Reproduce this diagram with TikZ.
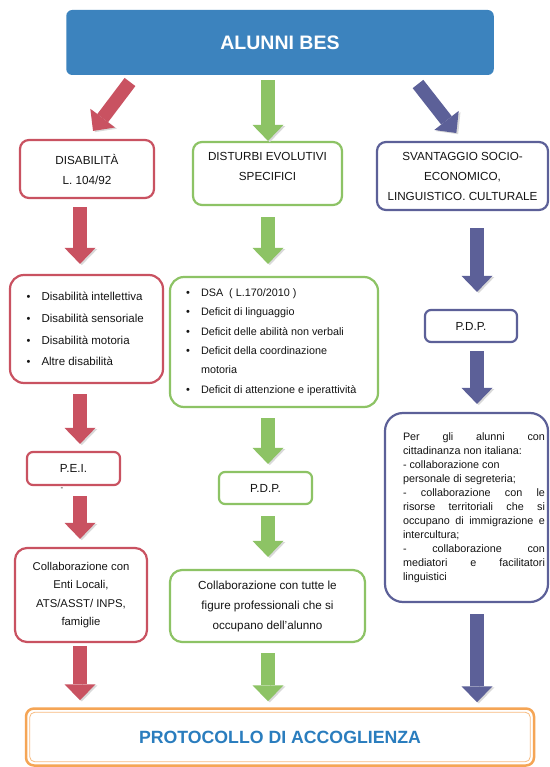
\documentclass[tikz,border=0pt]{standalone}
\usepackage{fontspec}
\setmainfont{Liberation Sans}
\usetikzlibrary{arrows.meta,calc}
\definecolor{cred}{RGB}{201,82,97}
\definecolor{cgreen}{RGB}{141,195,101}
\definecolor{cblue}{RGB}{92,96,152}
\definecolor{ctop}{RGB}{60,131,190}
\definecolor{corange}{RGB}{245,165,85}
\definecolor{cproto}{RGB}{42,125,190}
\definecolor{ctext}{RGB}{20,20,20}
\newcommand\bul{\makebox[15pt][l]{{\fontsize{11}{11}\selectfont\textbullet}}}
\begin{document}
\begin{tikzpicture}[x=1pt,y=-1pt,
  box/.style={draw, line width=2.2pt, rounded corners=9pt, fill=white, text=ctext, align=center, inner sep=0pt},
  rbox/.style={box, draw=cred},
  gbox/.style={box, draw=cgreen},
  bbox/.style={box, draw=cblue},
  fsA/.style={font=\fontsize{11.7}{20}\selectfont},
  blockarrow/.style={line width=13.5pt, -{Triangle[width=31pt 0 0,length=16pt 0 0,line width=0pt 0 0]},
     preaction={draw=black!15, transform canvas={shift={(1.8pt,-1.2pt)}}}},
  rarrow/.style={blockarrow, draw=cred},
  garrow/.style={blockarrow, draw=cgreen},
  barrowc/.style={blockarrow, draw=cblue},
  topbox/.style={fill=ctop, rounded corners=6pt, minimum width=427.5pt, minimum height=65pt, text=white, inner sep=0pt,
     font=\fontsize{19.5}{22}\selectfont\bfseries}
]
\useasboundingbox (0,0) rectangle (549,767);
\fill[white] (0,0) rectangle (549,767);

% top
\node[topbox] (top) at (280,42.5) {ALUNNI BES};

% level 1
\node[rbox, fsA, minimum width=134pt, minimum height=58pt] (dis) at (87,169) {DISABILITÀ\\L. 104/92};
\node[gbox, font=\fontsize{11.7}{20.5}\selectfont, minimum width=149pt, minimum height=63pt] (dist) at (267.5,173.5) {DISTURBI EVOLUTIVI\\SPECIFICI\\[-6pt]\mbox{}};
\node[bbox, fsA, minimum width=171pt, minimum height=68pt] (svan) at (462.5,176) {SVANTAGGIO SOCIO-\\ECONOMICO,\\LINGUISTICO. CULTURALE};

% level 2
\node[rbox, rounded corners=14pt, minimum width=153pt, minimum height=108pt] (rlist) at (86.5,329)
 {\parbox{120pt}{\fontsize{11.5}{21.7}\selectfont\raggedright
  \bul Disabilità intellettiva\\
  \bul Disabilità sensoriale\\
  \bul Disabilità motoria\\
  \bul Altre disabilità}};
\node[gbox, rounded corners=14pt, minimum width=208pt, minimum height=130pt] (glist) at (274,342)
 {\parbox{176pt}{\fontsize{10.8}{19.3}\selectfont\raggedright
  \bul DSA\ \ ( L.170/2010 )\\
  \bul Deficit di linguaggio\\
  \bul Deficit delle abilità non verbali\\
  \bul Deficit della coordinazione\\
  \hspace*{15pt}motoria\\
  \bul Deficit di attenzione e iperattività}};
\node[bbox, fsA, rounded corners=6pt, minimum width=92pt, minimum height=32pt] (bpdp) at (471,326) {P.D.P.};

% level 3
\node[rbox, fsA, rounded corners=6pt, minimum width=93pt, minimum height=33pt] (pei) at (73.5,468.5) {P.E.I.};
\node[text=ctext, inner sep=0pt, font=\fontsize{8}{8}\selectfont] (dash) at (62,489) {-};
\node[gbox, fsA, rounded corners=6pt, minimum width=93pt, minimum height=32pt] (gpdp) at (265.5,488) {P.D.P.};
\node[bbox, rounded corners=18pt, minimum width=163pt, minimum height=189pt] (bnote) at (466.5,507.5)
 {\hspace{15pt}\parbox{142pt}{\fontsize{10.8}{14.05}\selectfont
  Per\hfill gli\hfill alunni\hfill con\\
  cittadinanza non italiana:\\
  - collaborazione con\\
  personale di segreteria;\\
  -\hfill collaborazione\hfill con\hfill le\\
  risorse\hfill territoriali\hfill che\hfill si\\
  occupano\hfill di\hfill immigrazione\hfill e\\
  intercultura;\\
  -\hfill collaborazione\hfill con\\
  mediatori\hfill e\hfill facilitatori\\
  linguistici}};

% level 4
\node[rbox, rounded corners=12pt, minimum width=132pt, minimum height=94pt, font=\fontsize{11.3}{18.3}\selectfont] (rcol) at (81,595)
 {Collaborazione con\\Enti Locali,\\ATS/ASST/ INPS,\\famiglie};
\node[gbox, rounded corners=12pt, minimum width=195pt, minimum height=72pt, fsA] (gcol) at (267.5,606)
 {Collaborazione con tutte le\\figure professionali che si\\occupano dell’alunno};

% bottom
\node[draw=corange, line width=2.5pt, rounded corners=8pt, minimum width=508pt, minimum height=57pt, inner sep=0pt,
  text=cproto, font=\fontsize{17.7}{20}\selectfont\bfseries] (proto) at (280,737) {PROTOCOLLO DI ACCOGLIENZA};
\draw[corange!75, line width=0.8pt, rounded corners=5pt] ([shift={(5,5)}]proto.north west) rectangle ([shift={(-5,-5)}]proto.south east);

% arrow anchors
\coordinate (rx) at (80,0);
\coordinate (gx) at (268,0);
\coordinate (bx) at (477,0);
\coordinate (rd0) at (130,82);
\coordinate (bd0) at (418,84);

% arrows from top
\draw[rarrow, shorten >=10pt] (rd0) -- (dis.north);
\draw[garrow, shorten <=5pt] (top.south -| gx) -- (dist.north -| gx);
\draw[barrowc, shorten >=10pt] (bd0) -- (svan.north);

% red column
\draw[rarrow, shorten <=8pt, shorten >=10pt] (dis.south -| rx) -- (rlist.north -| rx);
\draw[rarrow, shorten <=10pt, shorten >=7pt] (rlist.south -| rx) -- (pei.north -| rx);
\draw[rarrow, shorten <=10pt, shorten >=8pt] (pei.south -| rx) -- (rcol.north -| rx);
\draw[rarrow, shorten <=3pt, shorten >=7pt] (rcol.south -| rx) -- (proto.north -| rx);

% green column
\draw[garrow, shorten <=11pt, shorten >=12pt] (dist.south -| gx) -- (glist.north -| gx);
\draw[garrow, shorten <=10pt, shorten >=7pt] (glist.south -| gx) -- (gpdp.north -| gx);
\draw[garrow, shorten <=11pt, shorten >=12pt] (gpdp.south -| gx) -- (gcol.north -| gx);
\draw[garrow, shorten <=10pt, shorten >=6pt] (gcol.south -| gx) -- (proto.north -| gx);

% blue column
\draw[barrowc, shorten <=17pt, shorten >=17pt] (svan.south -| bx) -- (bpdp.north -| bx);
\draw[barrowc, shorten <=8pt, shorten >=8pt] (bpdp.south -| bx) -- (bnote.north -| bx);
\draw[barrowc, shorten <=11pt, shorten >=5pt] (bnote.south -| bx) -- (proto.north -| bx);
\end{tikzpicture}
\end{document}
